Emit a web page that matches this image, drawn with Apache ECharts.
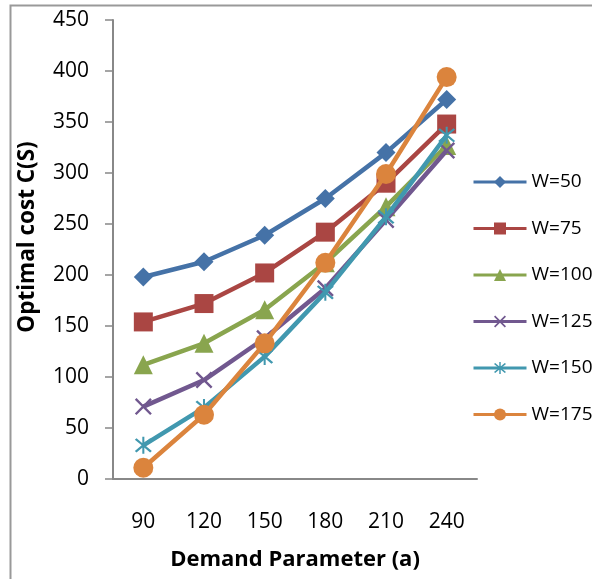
<!DOCTYPE html>
<html>
<head>
    <meta charset="utf-8">
    <title>Optimal cost vs demand parameter</title>
    <script src="https://cdn.jsdelivr.net/npm/echarts@6/dist/echarts.min.js"></script>
    <style>
        html, body { margin: 0; padding: 0; background: #fff; }
        #chart { width: 592px; height: 579px; }
    </style>
</head>
<body>
<div id="chart"></div>
<script type="text/javascript">
    // data
    var demand = ['90', '120', '150', '180', '210', '240'];
    var w50  = [198, 213, 239, 275, 320, 372];
    var w75  = [154, 172, 202, 242, 290, 348];
    var w100 = [112, 133, 166, 212, 267, 327];
    var w125 = [71, 97, 138, 187, 254, 322];
    var w150 = [33, 70, 120, 183, 257, 337];
    var w175 = [11, 63, 133, 212, 299, 394];
    var names = ['W=50', 'W=75', 'W=100', 'W=125', 'W=150', 'W=175'];

    var colors = ['#4572A7', '#AA4643', '#89A54E', '#71588F', '#4198AF', '#DB843D'];
    // cross and asterisk markers as filled paths
    var xMark = 'path://M0,1 L1,0 L5,4 L9,0 L10,1 L6,5 L10,9 L9,10 L5,6 L1,10 L0,9 L4,5 Z';
    var starMark = 'path://M0,1 L1,0 L5,4 L9,0 L10,1 L6,5 L10,9 L9,10 L5,6 L1,10 L0,9 L4,5 Z M4.4,-1 L5.6,-1 L5.6,11 L4.4,11 Z';
    var symbols = ['diamond', 'rect', 'triangle', xMark, starMark, 'circle'];
    var sizes = [19, 19, 19, 17, 17, 20];
    var values = [w50, w75, w100, w125, w150, w175];

    var font = '"Open Sans", "Noto Sans", sans-serif';

    var series = names.map(function (n, i) {
        return {
            name: n,
            type: 'line',
            data: values[i],
            symbol: symbols[i],
            symbolSize: sizes[i],
            showAllSymbol: true,
            lineStyle: { width: 4.5, color: colors[i] },
            itemStyle: { color: colors[i] },
            emphasis: { disabled: true },
            z: 2 + i
        };
    });

    var myChart = echarts.init(document.getElementById('chart'));
    myChart.setOption({
        animation: false,
        backgroundColor: '#fff',
        color: colors,
        grid: { left: 113, right: 115, top: 20, bottom: 100, containLabel: false },
        legend: {
            orient: 'vertical',
            left: 472,
            top: 172,
            padding: 0,
            itemWidth: 53,
            itemHeight: 15,
            itemGap: 26.5,
            lineStyle: { width: 3 },
            textStyle: { fontFamily: font, fontSize: 19, color: '#000', lineHeight: 20 },
            data: names
        },
        xAxis: {
            type: 'category',
            data: demand,
            boundaryGap: true,
            name: 'Demand Parameter (a)',
            nameLocation: 'middle',
            nameGap: 70,
            nameTextStyle: { fontFamily: font, fontSize: 22, fontWeight: 'bold', color: '#000' },
            axisLine: { lineStyle: { color: '#888', width: 2 } },
            axisTick: { show: false },
            axisLabel: { fontFamily: font, fontSize: 21, color: '#000', margin: 33 },
            splitLine: { show: false }
        },
        yAxis: {
            type: 'value',
            min: 0,
            max: 450,
            interval: 50,
            axisLine: { show: true, lineStyle: { color: '#888', width: 2 } },
            axisTick: { show: true, inside: false, length: 8, lineStyle: { color: '#888', width: 1.5 } },
            axisLabel: { fontFamily: font, fontSize: 21, color: '#000', margin: 24 },
            splitLine: { show: false }
        },
        graphic: [
            {
                type: 'rect',
                left: 8, top: 3,
                shape: { width: 700, height: 700 },
                style: { fill: 'none', stroke: '#999', lineWidth: 2 },
                silent: true
            },
            {
                type: 'text',
                x: 28, y: 237,
                rotation: Math.PI / 2,
                style: {
                    text: 'Optimal cost C(S)',
                    font: 'bold 22.5px ' + font,
                    fill: '#000',
                    textAlign: 'center',
                    textVerticalAlign: 'middle'
                }
            }
        ],
        series: series
    });
</script>
</body>
</html>
